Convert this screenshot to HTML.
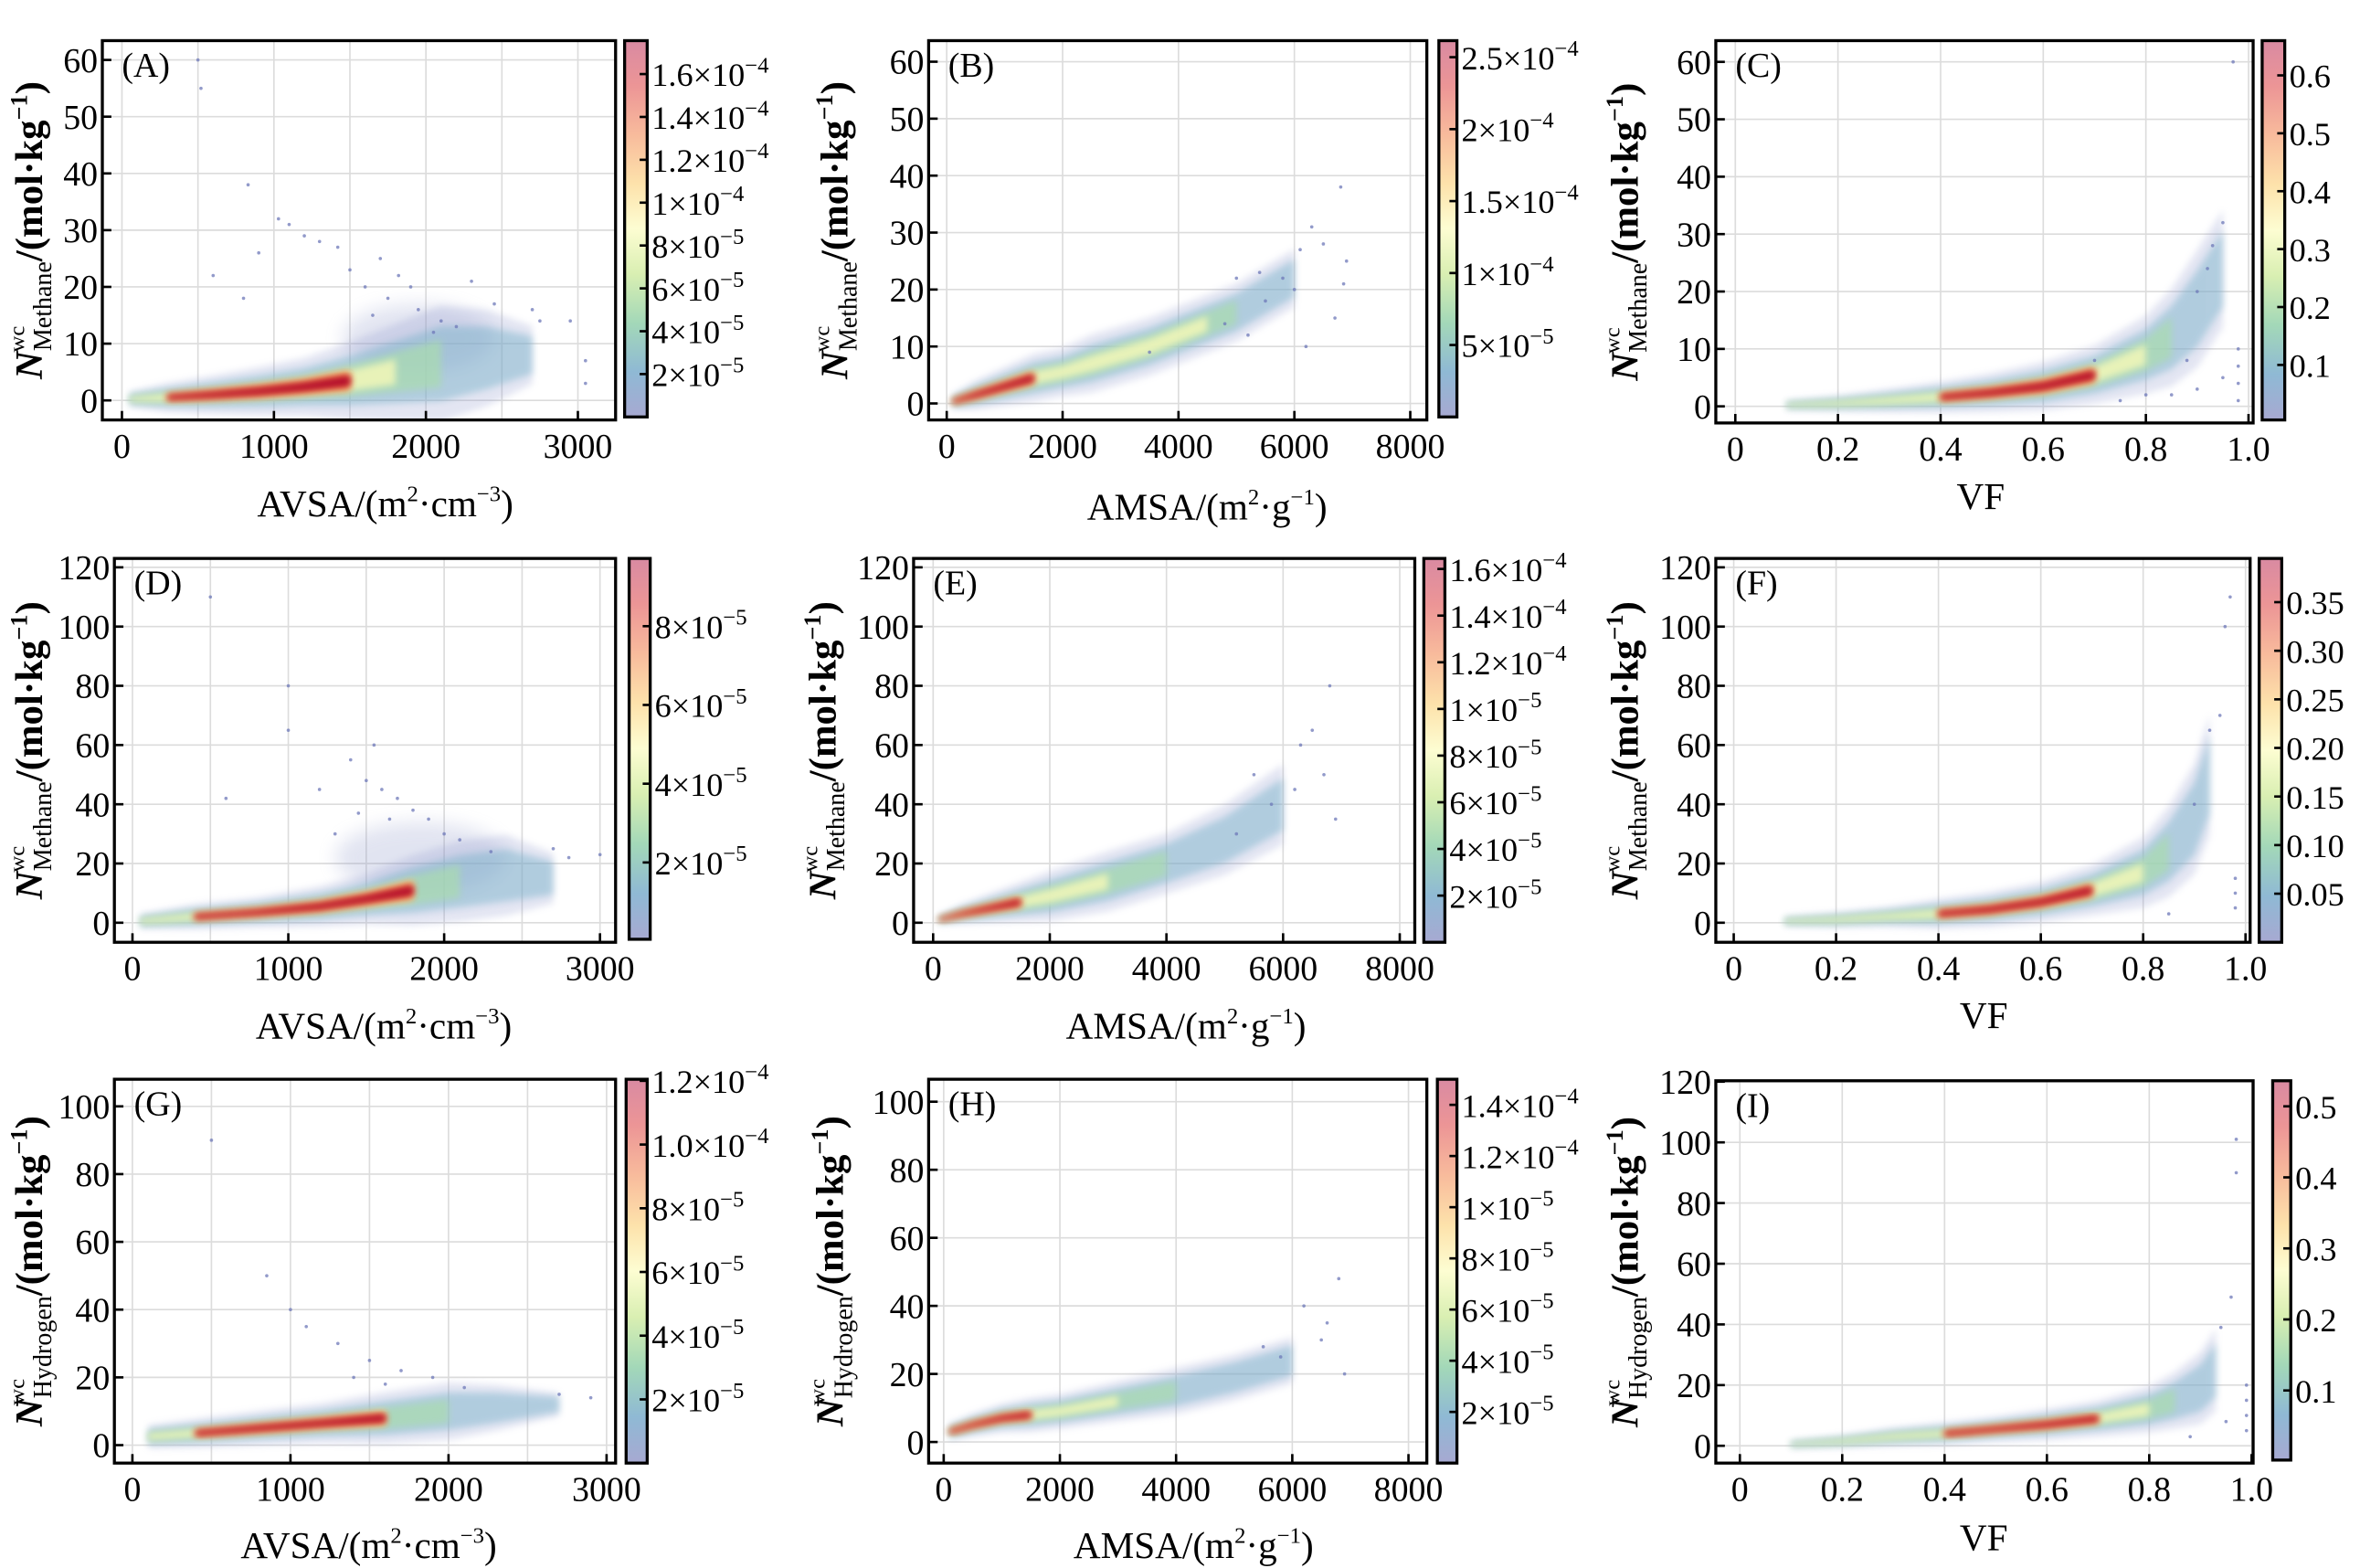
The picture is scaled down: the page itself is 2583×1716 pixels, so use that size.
<!DOCTYPE html>
<html><head><meta charset="utf-8">
<style>
html,body{margin:0;padding:0;background:#fff;}
svg{display:block;font-family:"Liberation Serif","DejaVu Serif",serif;}
</style></head>
<body>
<svg id="fig" width="2583" height="1716" viewBox="0 0 1568 1041.7" preserveAspectRatio="none" xmlns="http://www.w3.org/2000/svg">
<defs>
<linearGradient id="cbgrad" x1="0" y1="1" x2="0" y2="0">
<stop offset="0" stop-color="#a7a9d2"/><stop offset="0.12" stop-color="#8fb9d4"/><stop offset="0.25" stop-color="#a3d8b8"/><stop offset="0.38" stop-color="#d9efb2"/><stop offset="0.5" stop-color="#fdfdd2"/><stop offset="0.62" stop-color="#fde2ab"/><stop offset="0.75" stop-color="#f8bb9c"/><stop offset="0.88" stop-color="#ec9596"/><stop offset="1" stop-color="#d98aa2"/>
</linearGradient>
<filter id="blur" x="-20%" y="-20%" width="140%" height="140%"><feGaussianBlur stdDeviation="2.2"/></filter>
<filter id="blur2" x="-30%" y="-30%" width="160%" height="160%"><feGaussianBlur stdDeviation="6"/></filter>
</defs>
</svg>
<script>
// ---- tick arrays ----
const avsaTicks=[0,1000,2000,3000];
const avsaGrid=[0,500,1000,1500,2000,2500,3000];
const amsaTicks=[0,2000,4000,6000,8000];
const vfTicks=[0,0.2,0.4,0.6,0.8,1.0];
const vfTickLabels=['0','0.2','0.4','0.6','0.8','1.0'];
const y60=[0,10,20,30,40,50,60];
const y120=[0,20,40,60,80,100,120];
const y100=[0,20,40,60,80,100];
// ---- colorbar arrays ----
const aCbVals=[20,40,60,80,100,120,140,160];
const aCbLabels=['2×10^-5','4×10^-5','6×10^-5','8×10^-5','1×10^-4','1.2×10^-4','1.4×10^-4','1.6×10^-4'];
const bCbVals=[50,100,150,200,250];
const bCbLabels=['5×10^-5','1×10^-4','1.5×10^-4','2×10^-4','2.5×10^-4'];
const cCbVals=[0.1,0.2,0.3,0.4,0.5,0.6];
const cCbLabels=['0.1','0.2','0.3','0.4','0.5','0.6'];
const dCbVals=[2,4,6,8];
const dCbLabels=['2×10^-5','4×10^-5','6×10^-5','8×10^-5'];
const eCbVals=[2,4,6,8,10,12,14,16];
const eCbLabels=['2×10^-5','4×10^-5','6×10^-5','8×10^-5','1×10^-5','1.2×10^-4','1.4×10^-4','1.6×10^-4'];
const fCbVals=[0.05,0.10,0.15,0.20,0.25,0.30,0.35];
const fCbLabels=['0.05','0.10','0.15','0.20','0.25','0.30','0.35'];
const gCbVals=[2,4,6,8,10,12];
const gCbLabels=['2×10^-5','4×10^-5','6×10^-5','8×10^-5','1.0×10^-4','1.2×10^-4'];
const hCbVals=[2,4,6,8,10,12,14];
const hCbLabels=['2×10^-5','4×10^-5','6×10^-5','8×10^-5','1×10^-5','1.2×10^-4','1.4×10^-4'];
const iCbVals=[0.1,0.2,0.3,0.4,0.5];
const iCbLabels=['0.1','0.2','0.3','0.4','0.5'];
// ---- series arrays: density ridge (center), spread, outliers ----
const aRidgeX=[50,300,600,900,1200,1500,1800,2100,2400,2700];
const aRidgeY=[0.2,0.5,1.0,1.6,2.4,3.5,5.0,6.5,7.5,8];
const aSpread=[0.8,1.5,2,2.5,3,4,5,6,5,3];
const aOutX=[500,520,830,1030,1100,1200,1300,1420,1500,1700,1820,1900,2300,2450,2700,2750,2950,3050,3050,600,800,900,1600,2100,2200,1750,1950,2050,1650];
const aOutY=[60,55,38,32,31,29,28,27,23,25,22,20,21,17,16,14,14,7,3,22,18,26,20,14,13,18,16,12,15];
const bRidgeX=[100,500,1000,1500,2000,2500,3000,3500,4000,4500,5000,5500,6000];
const bRidgeY=[0.3,1.5,3,4.5,5.5,7,8.5,10,12,14,16,19,22];
const bSpread=[0.8,1.5,2,2.5,2.5,3,3,3,3,3,3,3,3];
const bOutX=[6300,6500,6800,6900,6000,5800,5500,5200,6200,3500,6700,6100,5000,4800,6850,5400];
const bOutY=[31,28,38,25,20,22,18,12,10,9,15,27,22,14,21,23];
const cRidgeX=[0.1,0.2,0.3,0.4,0.5,0.6,0.7,0.8,0.85,0.9,0.95];
const cRidgeY=[0.2,0.5,1,1.6,2.4,3.5,5.5,9,12,17,24];
const cSpread=[0.5,0.8,1.2,1.6,2,2.5,3,4,5,6,6];
const cOutX=[0.95,0.97,0.92,0.9,0.95,0.9,0.88,0.8,0.98,0.98,0.98,0.98,0.85,0.75,0.7,0.93];
const cOutY=[32,60,24,20,5,3,8,2,1,4,7,10,2,1,8,28];
const dRidgeX=[50,400,800,1200,1500,1800,2100,2400,2700];
const dRidgeY=[0.5,2,3.5,5.5,8,11,14,16,15];
const dSpread=[1.5,2.5,3,4,5,7,8,8,5];
const dOutX=[500,1000,1000,1400,1500,1600,1700,1800,1900,1550,1450,600,2100,2300,2700,2800,3000,1300,1200,2000,1650];
const dOutY=[110,80,65,55,48,45,42,38,35,60,37,42,28,24,25,22,23,30,45,30,35];
const eRidgeX=[100,500,1000,1500,2000,3000,4000,5000,6000];
const eRidgeY=[1,3,5,7,9,14,20,28,40];
const eSpread=[1,2,3,4,5,6,6,7,8];
const eOutX=[6300,6500,6800,6700,5500,6200,6900,5800,5200];
const eOutY=[60,65,80,50,50,45,35,40,30];
const fRidgeX=[0.1,0.2,0.3,0.4,0.5,0.6,0.7,0.8,0.85,0.9,0.93];
const fRidgeY=[0.5,1,2,3,4.5,7,11,17,24,35,50];
const fSpread=[1,1.5,2,3,3.5,4,5,7,9,11,12];
const fOutX=[0.97,0.95,0.96,0.93,0.9,0.98,0.98,0.98,0.85];
const fOutY=[110,70,100,65,40,5,10,15,3];
const gRidgeX=[100,400,800,1200,1600,2000,2300,2700];
const gRidgeY=[2.5,3.5,5,6.5,8,10,11,12];
const gSpread=[2,2.5,3,3.5,4.5,5,4,2];
const gOutX=[500,850,1000,1100,1300,1500,1700,1900,2700,2900,1400,1600,2100];
const gOutY=[90,50,40,35,30,25,22,20,15,14,20,18,17];
const hRidgeX=[100,500,1000,1500,2000,3000,4000,5000,6000];
const hRidgeY=[3,5,7,8,9,12,15,19,24];
const hSpread=[1.5,2,2.5,3,3,3.5,4,4,4];
const hOutX=[6200,6800,6500,6900,5800,6600,5500];
const hOutY=[40,48,30,20,25,35,28];
const iRidgeX=[0.1,0.2,0.3,0.4,0.5,0.6,0.7,0.8,0.85,0.9,0.93];
const iRidgeY=[0.5,1.5,3,4,5.5,7,9,12,15,19,25];
const iSpread=[0.8,1.2,1.8,2.2,2.5,3,3.5,4.5,5.5,7,8];
const iOutX=[0.97,0.97,0.96,0.94,0.99,0.99,0.99,0.99,0.95,0.88];
const iOutY=[101,90,49,39,10,15,20,5,8,3];

const panels=[
 {id:'A',f:[68,27,409,279],cb:[415,27,430,277],xr:[-129,3248],yr:[-3.45,63.4],xt:avsaTicks,xg:avsaGrid,yt:y60,cbr:[0,175.6],cbv:aCbVals,cbl:aCbLabels,rx:aRidgeX,ry:aRidgeY,sp:aSpread,core:[1,5],ox:aOutX,oy:aOutY,xl:'AVSA',xu:['m','2','·cm','−3',')'],xlx:256,xly:343,ylx:28,gas:'Methane',cloud:[1950,11,500,6]},
 {id:'B',f:[617,27,948,279],cb:[956,27,968,277],xr:[-312,8286],yr:[-2.9,63.7],xt:amsaTicks,xg:amsaTicks,yt:y60,cbr:[0,261.5],cbv:bCbVals,cbl:bCbLabels,rx:bRidgeX,ry:bRidgeY,sp:bSpread,core:[0,3],ox:bOutX,oy:bOutY,xl:'AMSA',xu:['m','2','·g','−1',')'],xlx:802,xly:345,ylx:563,gas:'Methane'},
 {id:'C',f:[1140,27,1497,281],cb:[1503,27,1518,279],xr:[-0.038,1.009],yr:[-2.9,63.7],xt:vfTicks,xtl:vfTickLabels,xg:vfTicks,yt:y60,cbr:[0.005,0.66],cbv:cCbVals,cbl:cCbLabels,rx:cRidgeX,ry:cRidgeY,sp:cSpread,core:[3,6],ox:cOutX,oy:cOutY,xl:'VF',xlx:1316,xly:338,ylx:1088,gas:'Methane'},
 {id:'D',f:[76,371,409,626],cb:[418,371,432,624],xr:[-116,3100],yr:[-6.6,123],xt:avsaTicks,xg:avsaGrid,yt:y120,cbr:[0.05,9.72],cbv:dCbVals,cbl:dCbLabels,rx:dRidgeX,ry:dRidgeY,sp:dSpread,core:[1,5],ox:dOutX,oy:dOutY,xl:'AVSA',xu:['m','2','·cm','−3',')'],xlx:255,xly:690,ylx:28,gas:'Methane',cloud:[1850,22,550,12]},
 {id:'E',f:[607,371,940,626],cb:[946,371,960,626],xr:[-335,8258],yr:[-6.6,123],xt:amsaTicks,xg:amsaTicks,yt:y120,cbr:[0,16.45],cbv:eCbVals,cbl:eCbLabels,rx:eRidgeX,ry:eRidgeY,sp:eSpread,core:[0,3],ox:eOutX,oy:eOutY,xl:'AMSA',xu:['m','2','·g','−1',')'],xlx:788,xly:690,ylx:555,gas:'Methane'},
 {id:'F',f:[1140,371,1495,626],cb:[1501,371,1516,626],xr:[-0.035,1.009],yr:[-6.6,123],xt:vfTicks,xtl:vfTickLabels,xg:vfTicks,yt:y120,cbr:[0,0.395],cbv:fCbVals,cbl:fCbLabels,rx:fRidgeX,ry:fRidgeY,sp:fSpread,core:[3,6],ox:fOutX,oy:fOutY,xl:'VF',xlx:1318,xly:683,ylx:1088,gas:'Methane'},
 {id:'G',f:[76,717,409,972],cb:[416,717,430,972],xr:[-114,3057],yr:[-5.3,108],xt:avsaTicks,xg:avsaGrid,yt:y100,cbr:[0,12.05],cbv:gCbVals,cbl:gCbLabels,rx:gRidgeX,ry:gRidgeY,sp:gSpread,core:[1,4],ox:gOutX,oy:gOutY,xl:'AVSA',xu:['m','2','·cm','−3',')'],xlx:245,xly:1035,ylx:28,gas:'Hydrogen'},
 {id:'H',f:[617,717,948,972],cb:[955,717,968,972],xr:[-259,8316],yr:[-6.2,106.6],xt:amsaTicks,xg:amsaTicks,yt:y100,cbr:[0,15.0],cbv:hCbVals,cbl:hCbLabels,rx:hRidgeX,ry:hRidgeY,sp:hSpread,core:[0,3],ox:hOutX,oy:hOutY,xl:'AMSA',xu:['m','2','·g','−1',')'],xlx:793,xly:1035,ylx:560,gas:'Hydrogen'},
 {id:'I',f:[1140,718,1497,972],cb:[1510,718,1522,970],xr:[-0.047,1.003],yr:[-5.7,120.3],xt:vfTicks,xtl:vfTickLabels,xg:vfTicks,yt:y120,cbr:[0.002,0.536],cbv:iCbVals,cbl:iCbLabels,rx:iRidgeX,ry:iRidgeY,sp:iSpread,core:[3,6],ox:iOutX,oy:iOutY,xl:'VF',xlx:1318,xly:1030,ylx:1088,gas:'Hydrogen'}
];

const NS='http://www.w3.org/2000/svg';
const svg=document.getElementById('fig');
function mk(tag,attrs,parent){const e=document.createElementNS(NS,tag);for(const k in attrs)e.setAttribute(k,attrs[k]);(parent||svg).appendChild(e);return e;}

panels.forEach(p=>{
 const [x0,y0,x1,y1]=p.f;
 const g=mk('g',{});
 
 
 const xs=v=>x0+(v-p.xr[0])/(p.xr[1]-p.xr[0])*(x1-x0);
 const ys=v=>y1-(v-p.yr[0])/(p.yr[1]-p.yr[0])*(y1-y0);
 const clipId='clip'+p.id;
 const cp=mk('clipPath',{id:clipId},g); mk('rect',{x:x0,y:y0,width:x1-x0,height:y1-y0},cp);
 p.xg.forEach(v=>{const l=mk('line',{x1:xs(v),x2:xs(v),y1:y0,y2:y1,stroke:'#dcdcdc','stroke-width':1},g);});
 p.yt.forEach(v=>{const l=mk('line',{x1:x0,x2:x1,y1:ys(v),y2:ys(v),stroke:'#dcdcdc','stroke-width':1},g);});
 const dg=mk('g',{'clip-path':'url(#'+clipId+')'},g);
 
 
 if(p.cloud){const c=mk('ellipse',{cx:xs(p.cloud[0]),cy:ys(p.cloud[1]),rx:Math.abs(xs(p.cloud[0]+p.cloud[2])-xs(p.cloud[0])),ry:Math.abs(ys(p.cloud[1]+p.cloud[3])-ys(p.cloud[1])),fill:'#8c96c8',opacity:0.25,filter:'url(#blur2)'},dg);}
 function band(k,i0,i1,color,op,name){
  let up=[],lo=[];
  for(let i=i0;i<=i1;i++){up.push(xs(p.rx[i]).toFixed(1)+','+ys(p.ry[i]+k*p.sp[i]).toFixed(1));lo.unshift(xs(p.rx[i]).toFixed(1)+','+ys(p.ry[i]-k*p.sp[i]).toFixed(1));}
  const e=mk('polygon',{points:up.concat(lo).join(' '),fill:color,opacity:op,filter:'url(#blur)'},dg);
  
  
 }
 const n=p.rx.length-1;
 band(1.7,0,n,'#8f98cc',0.25,'density-band-outer');
 band(1.1,0,n,'#74b0c8',0.45,'density-band-low');
 band(0.7,0,n-2,'#a9dcae',0.7,'density-band-mid');
 band(0.45,0,n-3,'#f3f7b8',0.85,'density-band-high');
 band(0.48,p.core[0],p.core[1],'#f7a862',0.85,'density-core-outer');
 band(0.3,p.core[0],p.core[1],'#dc3a2e',0.9,'density-core');
 band(0.16,p.core[0],p.core[1],'#a8002a',1,'density-peak');
 p.ox.forEach((v,i)=>{const c=mk('circle',{cx:xs(v),cy:ys(p.oy[i]),r:1.1,fill:'#6e78b8',opacity:0.75},dg);});
 const fr=mk('rect',{x:x0,y:y0,width:x1-x0,height:y1-y0,fill:'none',stroke:'#000','stroke-width':2},g);
 
 p.xt.forEach((v,i)=>{
  const X=xs(v);
  const t=mk('line',{x1:X,x2:X,y1:y1,y2:y1-6,stroke:'#000','stroke-width':1.6},g);
  
  const tx=mk('text',{x:X,y:y1+25,'font-size':23,'text-anchor':'middle'},g);
  tx.textContent=p.xtl?p.xtl[i]:String(v);
  
 });
 p.yt.forEach(v=>{
  const Y=ys(v);
  const t=mk('line',{x1:x0,x2:x0+6,y1:Y,y2:Y,stroke:'#000','stroke-width':1.6},g);
  
  const tx=mk('text',{x:x0-3,y:Y+8,'font-size':23,'text-anchor':'end'},g);
  tx.textContent=String(v);
  
 });
 const pl=mk('text',{x:x0+13,y:y0+24,'font-size':23},g);
 pl.textContent='('+p.id+')';
 
 const xt=mk('text',{x:p.xlx,y:p.xly,'font-size':25,'text-anchor':'middle'},g);
 
 if(p.xu){
  xt.appendChild(document.createTextNode(p.xl+'/('+p.xu[0]));
  let s=mk('tspan',{'font-size':15,dy:-10},xt);s.textContent=p.xu[1];
  s=mk('tspan',{dy:10},xt);s.textContent=p.xu[2];
  s=mk('tspan',{'font-size':15,dy:-10},xt);s.textContent=p.xu[3];
  s=mk('tspan',{dy:10},xt);s.textContent=p.xu[4];
 } else xt.textContent=p.xl;
 const cy=(y0+y1)/2;
 const yg=mk('g',{transform:'translate('+p.ylx+','+cy+') rotate(-90)'},g);
 
 const yt=mk('text',{x:0,y:0,'font-size':26,'font-weight':'bold','text-anchor':'middle'},yg);
 let s=mk('tspan',{'font-style':'italic'},yt);s.textContent='N';
 s=mk('tspan',{'font-size':17,'font-weight':'normal',dy:6},yt);s.textContent=p.gas;
 s=mk('tspan',{dy:-6},yt);s.textContent='/(mol·kg';
 s=mk('tspan',{'font-size':16,dy:-10},yt);s.textContent='−1';
 s=mk('tspan',{dy:10},yt);s.textContent=')';
 const wcOff=p.gas==='Methane'?-81:-89;
 const wc=mk('text',{x:wcOff,y:-12,'font-size':15},yg);wc.textContent='wc';
 
 const [c0,cyt,c1,cyb]=p.cb;
 const cb=mk('rect',{x:c0,y:cyt,width:c1-c0,height:cyb-cyt,fill:'url(#cbgrad)',stroke:'#000','stroke-width':2},g);
 
 const cs=v=>cyb-(v-p.cbr[0])/(p.cbr[1]-p.cbr[0])*(cyb-cyt);
 p.cbv.forEach((v,i)=>{
  const Y=cs(v);
  const t=mk('line',{x1:c1-5,x2:c1,y1:Y,y2:Y,stroke:'#000','stroke-width':1.6},g);
  
  const lab=p.cbl[i];
  const tx=mk('text',{x:c1+3,y:Y+8,'font-size':22},g);
  
  if(lab.indexOf('^')>=0){
   const parts=lab.split('^');
   tx.appendChild(document.createTextNode(parts[0]));
   const sp=mk('tspan',{'font-size':15,dy:-9},tx);sp.textContent=parts[1].replace('-','−');
  } else tx.textContent=lab;
 });
});
</script>
</body></html>
